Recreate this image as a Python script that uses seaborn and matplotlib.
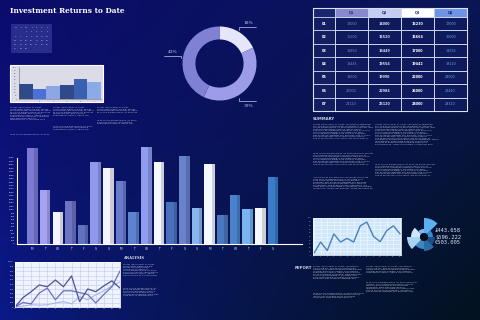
import textwrap
import numpy as np
import pandas as pd
import matplotlib
matplotlib.use("Agg")
import matplotlib.pyplot as plt
from matplotlib.patches import Rectangle
from matplotlib.colors import ListedColormap
import seaborn as sns

sns.set_theme(style="white")
plt.rcParams['font.family'] = ['DejaVu Sans']

# ---------------- data ----------------
title = "Investment Returns to Date"

cal_header = ["M", "T", "W", "T", "F", "S", "S"]
cal_rows = [["", "", "1", "2", "3", "4", "5"],
            ["6", "7", "8", "9", "10", "11", "12"],
            ["13", "14", "15", "16", "17", "18", "19"],
            ["20", "21", "22", "23", "24", "25", "26"],
            ["27", "28", "29", "", "", "", ""]]

small_bar_values = [47, 31, 41, 44, 63, 53]
small_bar_labels = ["A", "B", "C", "D", "E", "F"]
small_bar_colors = ["#2f4a88", "#4b70d8", "#8ea6e6", "#2f4a88", "#3a60b2", "#8aaae8"]

donut_labels = ["18%", "39%", "43%"]
donut_values = [18, 39, 43]
donut_colors = ["#e6e6fa", "#9c9ce8", "#8080d4"]

table_rows = ["01", "02", "03", "04", "05", "06", "07"]
table_cols = ["Q1", "Q2", "Q3", "Q4"]
q1 = [12000, 15500, 16850, 18445, 19500, 22000, 24120]
q2 = [14000, 15520, 16449, 19554, 19990, 22984, 25120]
q3 = [15230, 15664, 17000, 19442, 22000, 26000, 28000]
q4 = [17000, 16000, 18055, 19120, 23000, 28440, 29320]

big_bar_values = [2790, 1570, 930, 1250, 550, 2380, 2210, 1830, 930, 2820,
                  2380, 1220, 2560, 1050, 2330, 840, 1420, 1020, 1050, 1950]
big_bar_labels = ["M", "T", "W", "T", "F", "S", "S"] * 2 + ["M", "T", "W", "T", "F", "S"]
big_bar_colors = ["#7b7bd6", "#a3a3f2", "#f4f4ff", "#6d74c4", "#6072c0",
                  "#9098ec", "#f4f4ff", "#6a7acc", "#5c82d0", "#909cf0",
                  "#f4f8ff", "#4a70bc", "#6a82cc", "#88b4f0", "#f4f8ff",
                  "#4a78c0", "#4a82cc", "#78b4f0", "#f4f8ff", "#3a7cc8"]

line_x = list(range(14))
line_dark = [0, 210, 340, 490, 450, 600, 450, 690, 120, 400, 340, 470, 580, 420]
line_mid = [0, 100, 70, 310, 420, 160, 360, 360, 320, 280, 90, 280, 450, 800]
line_light = [0, 20, 50, 40, 50, 90, 120, 70, 230, 160, 270, 360, 470, 560]

right_line = [5, 35, 12, 57, 35, 45, 35, 79, 89, 50, 36, 66, 79, 57]

polar_values = [19, 9, 11, 14, 12, 17, 13, 8]
polar_colors = ["#5ab0f0", "#3a8ad0", "#1c4f86", "#2a6ca4",
                "#3d86c4", "#a8d4f4", "#cfe6f8", "#78bdf2"]

currency_texts = ["£443.658", "$596.222", "€503.005"]

lorem = ("Lorem ipsum dolor sit amet, consectetur adipiscing elit, sed do eiusmod "
         "tempor incididunt ut labore et dolore magna aliqua. Ut enim ad minim veniam, "
         "quis nostrud exercitation ullamco laboris nisi ut aliquip ex ea commodo "
         "consequat. Duis aute irure dolor in reprehenderit in voluptate velit esse "
         "cillum dolore eu fugiat nulla pariatur. Excepteur sint occaecat cupidatat non "
         "proident, sunt in culpa qui officia deserunt mollit anim id est laborum. "
         "Sed ut perspiciatis unde omnis iste natus error sit voluptatem accusantium "
         "doloremque laudantium, totam rem aperiam, eaque ipsa quae ab illo inventore "
         "veritatis et quasi architecto beatae vitae dicta sunt explicabo. Nemo enim "
         "ipsam voluptatem quia voluptas sit aspernatur aut odit aut fugit.")

# ---------------- figure ----------------
W, H = 480, 320
fig = plt.figure(figsize=(4.8, 3.2), dpi=100)


def rect(x, y, w, h):
    return [x / W, 1 - (y + h) / H, w / W, h / H]


def hex2rgb(h):
    return np.array([int(h[i:i + 2], 16) for i in (1, 3, 5)]) / 255.0


# background gradient
bg = fig.add_axes([0, 0, 1, 1])
tl, tr, bl, br = map(hex2rgb, ["#0c0b6e", "#0a1656", "#0b1a88", "#03121e"])
yy, xx = np.mgrid[0:1:320j, 0:1:480j]
xx = xx ** 0.8
xx3, yy3 = xx[..., None], yy[..., None]
grad = (tl * (1 - xx3) * (1 - yy3) + tr * xx3 * (1 - yy3)
        + bl * (1 - xx3) * yy3 + br * xx3 * yy3)
bg.imshow(grad, extent=[0, W, H, 0], aspect="auto", interpolation="bilinear")
bg.set_xlim(0, W)
bg.set_ylim(H, 0)
bg.axis("off")

# title
bg.text(10, 11, title, fontsize=5.3, fontweight="bold", family="DejaVu Serif",
        color="white", va="center", ha="left")

# calendar
bg.add_patch(Rectangle((11, 24), 41, 29, facecolor="#282c8c", edgecolor="none"))
cal_ys = [27.5, 32, 36.5, 40.5, 44.5, 48.5]
for r, row in enumerate([cal_header] + cal_rows):
    for c, s in enumerate(row):
        bg.text(15.5 + c * 5.3, cal_ys[r], s, fontsize=1.5, color="#c8ccf0",
                ha="center", va="center")

# small bar chart
bg.add_patch(Rectangle((10, 65), 93, 37, facecolor="#dcdce8", edgecolor="white", lw=0.8))
axs = fig.add_axes(rect(19, 67, 82, 32))
sdf = pd.DataFrame({"k": small_bar_labels, "v": small_bar_values})
sns.barplot(data=sdf, x="k", y="v", hue="k", palette=small_bar_colors, width=1.0,
            saturation=1, legend=False, ax=axs, errorbar=None, linewidth=0,
            edgecolor="none")
axs.set_facecolor("#dcdce8")
axs.set_ylim(0, 100)
axs.set_xlim(-0.5, 5.5)
axs.set_yticks(range(0, 101, 10))
axs.set_yticklabels([str(v) for v in range(0, 101, 10)])
axs.tick_params(axis="both", labelsize=1.4, colors="#555566", length=1, width=0.3, pad=0.6)
axs.set_xlabel("")
axs.set_ylabel("")
for s in ["top", "right"]:
    axs.spines[s].set_visible(False)
for s in ["left", "bottom"]:
    axs.spines[s].set_color("#666677")
    axs.spines[s].set_linewidth(0.4)


# text blocks
def text_block(x, y, width_px, paras, fs=1.6, color="#b4bcd0", ls=1.2):
    cw = int(width_px / 1.15)
    cy = y
    line_h = fs * 1.389 * ls
    off = 0
    for n in paras:
        lines = textwrap.wrap(lorem[off:] + " " + lorem, cw)[:n]
        off = (off + 97) % 300
        bg.text(x, cy, "\n".join(lines), fontsize=fs, color=color, va="top",
                ha="left", linespacing=ls)
        cy += n * line_h + 2.5


text_block(10, 107, 42, [9, 1])
text_block(53, 107, 41, [6, 3])
text_block(97, 107, 41, [4, 3])
text_block(313, 124, 59, [10, 8, 8])
text_block(375, 124, 59, [14, 8])
text_block(123, 264, 34, [8, 6])
text_block(313, 266, 51, [9, 4])
text_block(366, 266, 51, [5, 7])

# section labels
bg.text(123, 258, "ANALYSIS", fontsize=2.6, fontweight="bold", family="DejaVu Serif",
        color="#e0e4f4", va="center")
bg.text(313, 119, "SUMMARY", fontsize=2.8, fontweight="bold", color="#c8d0e0", va="center")
bg.text(295, 268, "REPORT", fontsize=2.8, fontweight="bold", color="#c8d0e0", va="center")

# donut
axd = fig.add_axes(rect(179.5, 23.5, 80, 80))
axd.pie(donut_values, colors=donut_colors, startangle=90, counterclock=False,
        radius=1.0, wedgeprops=dict(width=0.35, edgecolor="none", linewidth=0))
axd.set_xlim(-1.08, 1.08)
axd.set_ylim(-1.08, 1.08)
axd.set_aspect("equal")
axd.axis("off")
lab_col = "#c8c8f0"
bg.text(248, 23.5, donut_labels[0], fontsize=3.2, family="DejaVu Serif", color=lab_col,
        ha="center", va="center")
bg.plot([239, 239, 256], [30, 27, 27], color=lab_col, lw=0.5)
bg.text(248, 106, donut_labels[1], fontsize=3.2, family="DejaVu Serif", color=lab_col,
        ha="center", va="center")
bg.plot([239, 239, 256], [98, 100.5, 100.5], color=lab_col, lw=0.5)
bg.text(172.5, 52, donut_labels[2], fontsize=3.2, family="DejaVu Serif", color=lab_col,
        ha="center", va="center")
bg.plot([164, 181, 181], [56, 56, 58], color=lab_col, lw=0.5)

# table
col_edges = [313, 335, 368, 401, 434, 467]
head_colors = ["#1a2570", "#8888cc", "#c4ccf2", "#ffffff", "#6e94e4"]
for i in range(5):
    bg.add_patch(Rectangle((col_edges[i], 8), col_edges[i + 1] - col_edges[i], 9,
                           facecolor=head_colors[i], edgecolor="#d0d8f0", lw=0.5))
    if i > 0:
        bg.text((col_edges[i] + col_edges[i + 1]) / 2, 12.5, table_cols[i - 1],
                fontsize=2.5, fontweight="bold", color="#1a2a70", ha="center", va="center")
row_h = (111 - 17) / 7
for r, lab in enumerate(table_rows):
    bg.add_patch(Rectangle((313, 17 + r * row_h), 22, row_h, facecolor="#121e60",
                           edgecolor="#c8d0ea", lw=0.6))
    bg.text(324, 17 + (r + 0.5) * row_h, lab, fontsize=2.5, fontweight="bold",
            color="white", ha="center", va="center")
axt = fig.add_axes(rect(335, 17, 132, 94))
tdf = pd.DataFrame({"Q1": q1, "Q2": q2, "Q3": q3, "Q4": q4}, index=table_rows)
sns.heatmap(tdf, ax=axt, cmap=ListedColormap(["#0e1a5c"]), cbar=False, annot=True,
            fmt="d", linewidths=0.6, linecolor="#c8d0ea",
            annot_kws={"fontsize": 2.4, "fontweight": "bold"})
axt.set_xticks([])
axt.set_yticks([])
axt.set_xlabel("")
axt.set_ylabel("")
val_colors = ["#7c8cbc", "#d8dcf0", "#ffffff", "#6e9ee4"]
for i, t in enumerate(axt.texts):
    t.set_color(val_colors[i % 4])
    if i % 4 == 0 or i % 4 == 3:
        t.set_fontweight("normal")
bg.add_patch(Rectangle((313, 8), 154, 103, facecolor="none", edgecolor="#d8e0f4", lw=0.8))

# big bar chart
axb = fig.add_axes(rect(17, 140, 285, 104))
bdf = pd.DataFrame({"k": [f"b{i:02d}" for i in range(len(big_bar_values))],
                    "v": big_bar_values})
sns.barplot(data=bdf, x="k", y="v", hue="k", palette=big_bar_colors, width=0.83,
            saturation=1, legend=False, ax=axb, errorbar=None, linewidth=0,
            edgecolor="none")
idx = np.arange(len(big_bar_values))
axb.bar(idx + 0.285, big_bar_values, width=0.26, color="black", alpha=0.16, lw=0)
axb.set_facecolor("none")
axb.set_xlim(-1.22, 21.29)
axb.set_ylim(0, 3023)
axb.set_yticks(range(0, 2501, 100))
axb.set_yticklabels([str(v) for v in range(0, 2501, 100)])
axb.set_xticks(idx)
axb.set_xticklabels(big_bar_labels)
axb.tick_params(axis="y", labelsize=1.5, colors="white", length=1.2, width=0.3, pad=0.6)
axb.tick_params(axis="x", labelsize=2.2, colors="#e0e4f8", length=1.5, width=0.4, pad=0.8)
axb.set_xlabel("")
axb.set_ylabel("")
for s in ["top", "right"]:
    axb.spines[s].set_visible(False)
axb.spines["left"].set_bounds(0, 2500)
for s in ["left", "bottom"]:
    axb.spines[s].set_color("white")
    axb.spines[s].set_linewidth(0.8)

# bottom-left line chart
axl = fig.add_axes(rect(15, 262, 105, 45))
axl.set_facecolor("#f0f4fe")
sns.lineplot(x=line_x, y=line_light, ax=axl, color="#aab6e8", lw=0.8)
sns.lineplot(x=line_x, y=line_mid, ax=axl, color="#6a72b8", lw=0.9)
sns.lineplot(x=line_x, y=line_dark, ax=axl, color="#4c5490", lw=0.9)
axl.set_xlim(0, 13)
axl.set_ylim(0, 1000)
axl.set_xticks(line_x)
axl.set_yticks(range(0, 1001, 100))
axl.grid(True, color="#bcc8ee", lw=0.4)
axl.tick_params(axis="both", labelsize=1.5, colors="#c8d0f0", length=0, pad=1)
for s in axl.spines.values():
    s.set_color("white")
    s.set_linewidth(0.6)

# right line chart
axr = fig.add_axes(rect(313, 218, 88, 37))
axr.set_facecolor("#cfe6fb")
sns.lineplot(x=line_x, y=right_line, ax=axr, color="#4a82b8", lw=1.0)
axr.set_xlim(-0.15, 13.15)
axr.set_ylim(0, 100)
axr.set_xticks(line_x)
axr.set_yticks(range(0, 101, 10))
axr.grid(True, color="#f4faff", lw=0.4)
axr.tick_params(axis="both", labelsize=1.4, colors="#90a4c0", length=0, pad=1)
for s in axr.spines.values():
    s.set_color("#e8f2fc")
    s.set_linewidth(0.6)

# polar chart
axp = fig.add_axes(rect(404, 217, 40, 40), projection="polar")
theta = np.deg2rad(np.arange(len(polar_values)) * 45 + 22.5)
axp.set_theta_zero_location("N")
axp.set_theta_direction(-1)
axp.bar(theta, np.array(polar_values) - 4, width=np.deg2rad(45), bottom=4,
        color=polar_colors, edgecolor="none")
axp.bar([0], [4], width=2 * np.pi, bottom=0, color="#06101e", edgecolor="none")
axp.set_ylim(0, 20)
axp.axis("off")
axp.patch.set_alpha(0)

for i, s in enumerate(currency_texts):
    bg.text(435, 231 + 6 * i, s, fontsize=4.0, family="DejaVu Sans Mono",
            color="#d8e4f4", va="center", ha="left")

fig.savefig("out.png", dpi=100)
